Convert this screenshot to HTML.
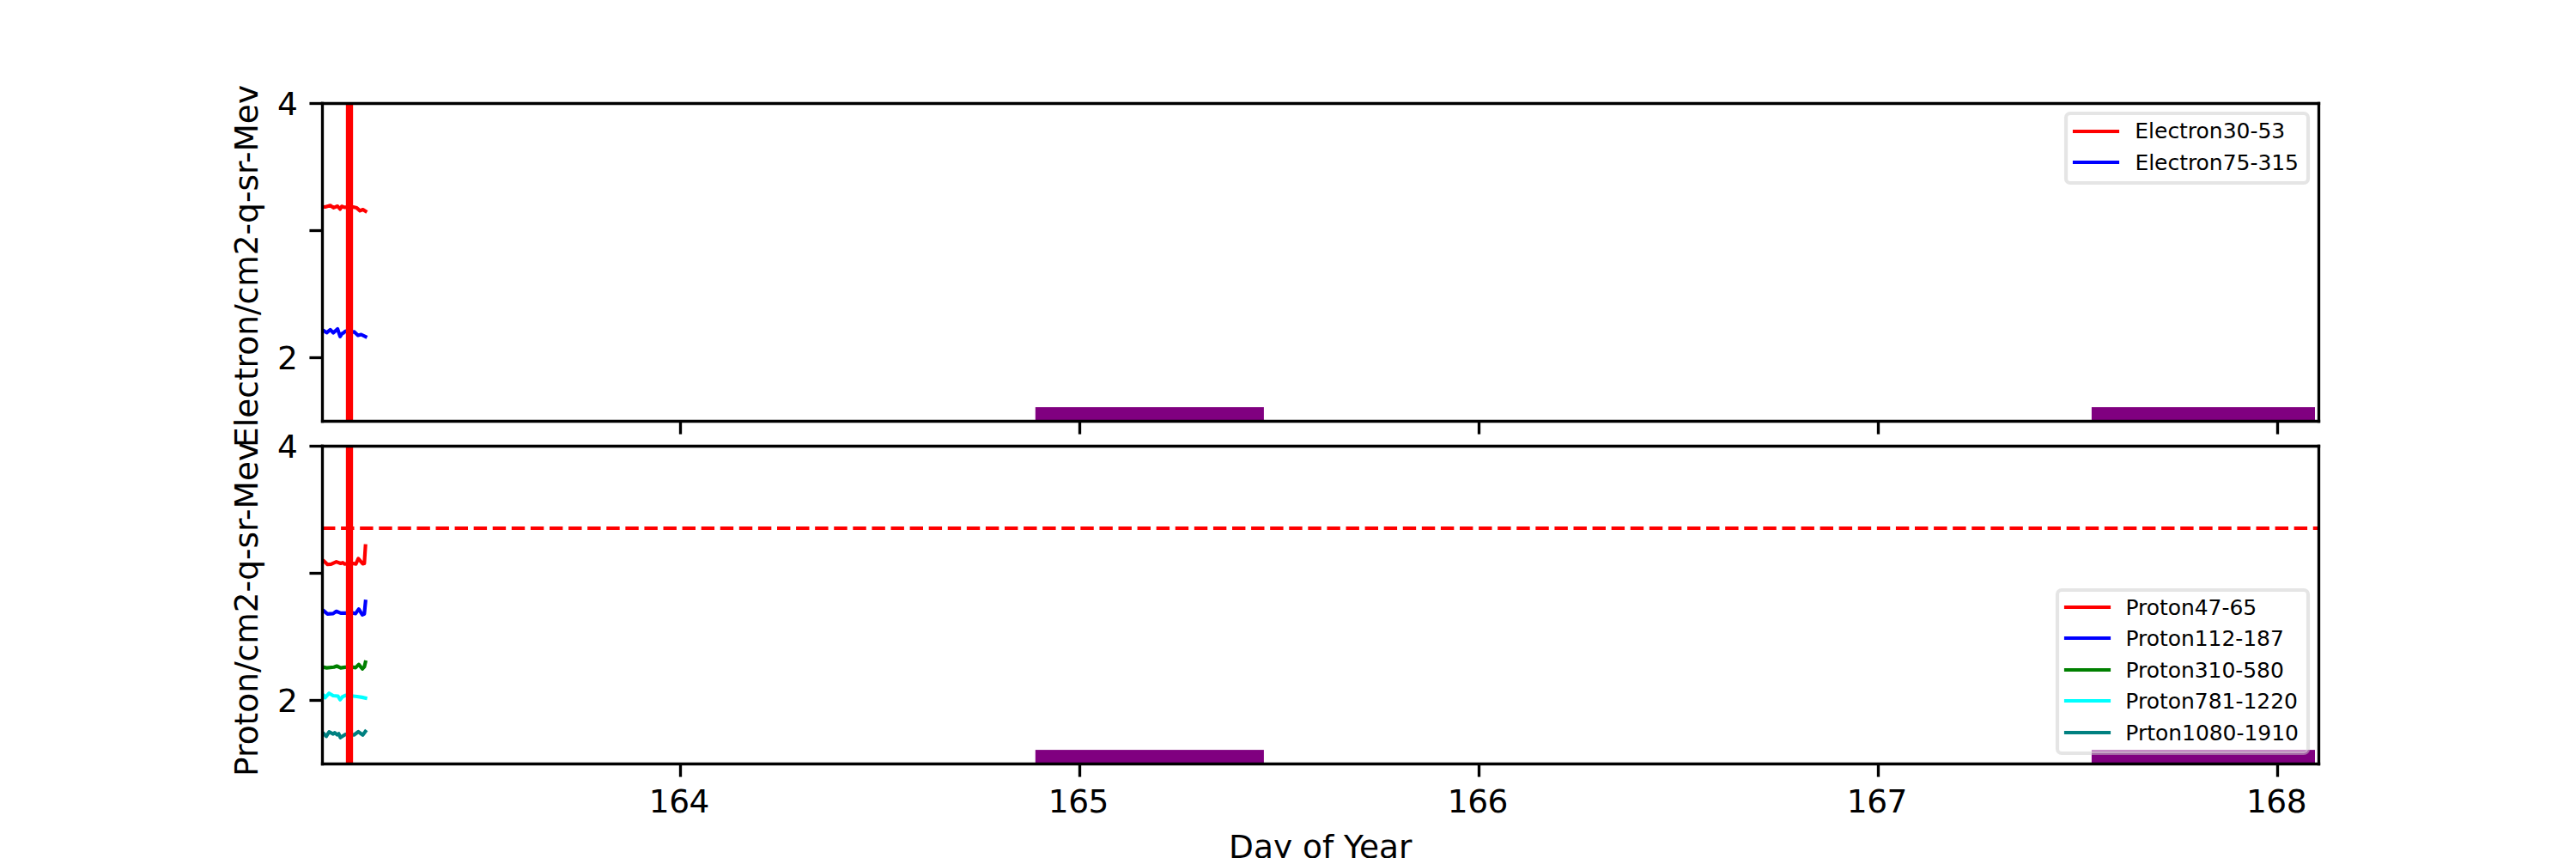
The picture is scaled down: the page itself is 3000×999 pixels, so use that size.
<!DOCTYPE html>
<html lang="en">
<head>
<meta charset="utf-8">
<title>Particle flux - Day of Year</title>
<style>
html,body{margin:0;padding:0;background:#fff;}
body{width:3000px;height:999px;overflow:hidden;}
svg{display:block;}
text{font-family:'DejaVu Sans','Liberation Sans',sans-serif;fill:#000;}
.t9{font-size:37.5px;}
.t6{font-size:25px;}
.sp{stroke:#000;stroke-width:3.3333;fill:none;stroke-linecap:square;}
.tk{stroke:#000;stroke-width:3.3333;fill:none;stroke-linecap:butt;}
.dl{fill:none;stroke-width:4.1667;stroke-linecap:square;stroke-linejoin:round;}
</style>
</head>
<body>
<svg width="3000" height="999" viewBox="0 0 3000 999">
<defs>
<clipPath id="c1"><rect x="375" y="119.88" width="2325" height="369.82"/></clipPath>
<clipPath id="c2"><rect x="375" y="519.27" width="2325" height="369.84"/></clipPath>
</defs>
<rect x="0" y="0" width="3000" height="999" fill="#ffffff"/>
<g id="axes1">
<g clip-path="url(#c1)">
<rect x="1205.8" y="474.10" width="266.1" height="18.40" fill="#800080"/>
<rect x="2435.9" y="474.10" width="260.1" height="18.40" fill="#800080"/>
<polyline class="dl" stroke="#ff0000" points="372.0,240.5 378.6,241.0 384.7,239.3 388.4,241.9 393.1,240.0 396.1,243.5 398.0,240.3 401.0,241.4 411.3,241.0 415.5,242.1 419.2,245.4 422.7,244.0 425.6,245.8"/>
<polyline class="dl" stroke="#0000ff" points="372.0,383.0 377.0,385.0 380.5,387.4 384.7,383.9 388.2,387.6 393.1,382.9 396.1,391.8 398.4,388.4 400.0,387.6 402.4,385.5 407.0,387.0 412.7,386.4 416.9,390.4 420.6,389.5 425.6,392.0"/>
<line x1="407" y1="115.5" x2="407" y2="495.5" stroke="#ff0000" stroke-width="8.3333"/>
</g>
<line class="tk" x1="792.5" y1="490.5" x2="792.5" y2="505.58"/>
<line class="tk" x1="1257.5" y1="490.5" x2="1257.5" y2="505.58"/>
<line class="tk" x1="1722.5" y1="490.5" x2="1722.5" y2="505.58"/>
<line class="tk" x1="2187.5" y1="490.5" x2="2187.5" y2="505.58"/>
<line class="tk" x1="2652.5" y1="490.5" x2="2652.5" y2="505.58"/>
<line class="tk" x1="360.42" y1="120.5" x2="375.5" y2="120.5"/>
<line class="tk" x1="360.42" y1="268.5" x2="375.5" y2="268.5"/>
<line class="tk" x1="360.42" y1="416.5" x2="375.5" y2="416.5"/>
<line class="sp" x1="375.5" y1="120.5" x2="375.5" y2="490.5"/>
<line class="sp" x1="2700.5" y1="120.5" x2="2700.5" y2="490.5"/>
<line class="sp" x1="375.5" y1="490.5" x2="2700.5" y2="490.5"/>
<line class="sp" x1="375.5" y1="120.5" x2="2700.5" y2="120.5"/>
<text id="a1_y4" class="t9" x="346.90" y="134.12" text-anchor="end">4</text>
<text id="a1_y2" class="t9" x="346.90" y="429.92" text-anchor="end">2</text>
<text id="yl1" class="t9" transform="translate(299.54 309.87) rotate(-90)" text-anchor="middle">Electron/cm2-q-sr-Mev</text>
<g>
<rect x="2406.00" y="132.00" width="282.00" height="81.00" rx="5" ry="5" fill="#ffffff" fill-opacity="0.5" stroke="#cccccc" stroke-opacity="0.5" stroke-width="4.1667"/>
<line x1="2416.00" y1="153.00" x2="2466.00" y2="153.00" stroke="#ff0000" stroke-width="4.1667" stroke-linecap="square"/>
<line x1="2416.00" y1="189.00" x2="2466.00" y2="189.00" stroke="#0000ff" stroke-width="4.1667" stroke-linecap="square"/>
</g>
<text id="l1_0" class="t6" x="2486.34" y="161.34" text-anchor="start" textLength="174.84" lengthAdjust="spacing">Electron30-53</text>
<text id="l1_1" class="t6" x="2486.40" y="198.05" text-anchor="start" textLength="190.62" lengthAdjust="spacing">Electron75-315</text>
</g>
<g id="axes2">
<g clip-path="url(#c2)">
<rect x="1205.8" y="873.10" width="266.1" height="18.40" fill="#800080"/>
<rect x="2435.9" y="873.10" width="260.1" height="18.40" fill="#800080"/>
<polyline class="dl" stroke="#ff0000" points="372.0,650.0 377.0,653.0 381.4,657.2 385.6,656.9 391.7,654.1 396.8,656.0 399.2,655.1 401.5,656.7 411.3,656.0 414.5,656.7 417.3,650.4 422.5,656.5 424.3,656.0 425.6,635.6"/>
<polyline class="dl" stroke="#0000ff" points="372.0,708.0 377.0,711.1 381.4,714.8 388.0,714.4 391.7,711.8 396.8,713.9 402.0,713.9 411.3,713.7 414.1,714.4 417.8,709.2 422.0,715.8 424.3,714.8 425.7,700.4"/>
<polyline class="dl" stroke="#008000" points="372.0,776.5 377.0,776.9 380.5,777.6 388.9,776.7 392.2,775.5 396.8,777.6 402.0,776.9 411.3,776.9 414.1,777.4 417.8,773.6 422.0,778.8 424.3,776.4 425.6,771.0"/>
<polyline class="dl" stroke="#00ffff" points="372.0,806.0 377.0,809.6 378.6,812.4 383.3,807.2 388.0,810.0 393.6,810.5 396.1,814.7 398.7,811.4 402.4,809.6 411.3,810.5 415.9,811.0 421.5,811.9 425.6,812.8"/>
<polyline class="dl" stroke="#008080" points="372.0,851.0 377.0,854.1 380.0,857.4 383.3,852.2 388.0,854.6 389.8,853.2 392.6,855.5 394.5,854.3 396.4,858.8 402.4,855.0 412.2,855.7 417.3,852.0 422.5,855.7 425.5,851.7"/>
<line x1="375" y1="615.00" x2="2700" y2="615.00" stroke="#ff0000" stroke-width="4.1667" stroke-dasharray="15.4167 6.6667"/>
<line x1="407" y1="514.5" x2="407" y2="894.5" stroke="#ff0000" stroke-width="8.3333"/>
</g>
<line class="tk" x1="792.5" y1="889.5" x2="792.5" y2="904.58"/>
<line class="tk" x1="1257.5" y1="889.5" x2="1257.5" y2="904.58"/>
<line class="tk" x1="1722.5" y1="889.5" x2="1722.5" y2="904.58"/>
<line class="tk" x1="2187.5" y1="889.5" x2="2187.5" y2="904.58"/>
<line class="tk" x1="2652.5" y1="889.5" x2="2652.5" y2="904.58"/>
<line class="tk" x1="360.42" y1="519.5" x2="375.5" y2="519.5"/>
<line class="tk" x1="360.42" y1="667.5" x2="375.5" y2="667.5"/>
<line class="tk" x1="360.42" y1="815.5" x2="375.5" y2="815.5"/>
<line class="sp" x1="375.5" y1="519.5" x2="375.5" y2="889.5"/>
<line class="sp" x1="2700.5" y1="519.5" x2="2700.5" y2="889.5"/>
<line class="sp" x1="375.5" y1="889.5" x2="2700.5" y2="889.5"/>
<line class="sp" x1="375.5" y1="519.5" x2="2700.5" y2="519.5"/>
<text id="a2_y4" class="t9" x="346.90" y="533.00" text-anchor="end">4</text>
<text id="a2_y2" class="t9" x="346.90" y="829.32" text-anchor="end">2</text>
<text id="yl2" class="t9" transform="translate(299.52 709.36) rotate(-90)" text-anchor="middle">Proton/cm2-q-sr-Mev</text>
<text id="x164" class="t9" x="791.13" y="945.91" text-anchor="middle" textLength="70.58" lengthAdjust="spacing">164</text>
<text id="x165" class="t9" x="1256.14" y="946.05" text-anchor="middle" textLength="70.58" lengthAdjust="spacing">165</text>
<text id="x166" class="t9" x="1721.11" y="945.92" text-anchor="middle" textLength="70.58" lengthAdjust="spacing">166</text>
<text id="x167" class="t9" x="2186.10" y="945.95" text-anchor="middle" textLength="70.58" lengthAdjust="spacing">167</text>
<text id="x168" class="t9" x="2651.25" y="945.86" text-anchor="middle" textLength="70.58" lengthAdjust="spacing">168</text>
<text id="xl" class="t9" x="1537.81" y="999.27" text-anchor="middle">Day of Year</text>
<g>
<rect x="2396.00" y="687.00" width="292.00" height="190.00" rx="5" ry="5" fill="#ffffff" fill-opacity="0.5" stroke="#cccccc" stroke-opacity="0.5" stroke-width="4.1667"/>
<line x1="2406.00" y1="707.00" x2="2456.00" y2="707.00" stroke="#ff0000" stroke-width="4.1667" stroke-linecap="square"/>
<line x1="2406.00" y1="743.00" x2="2456.00" y2="743.00" stroke="#0000ff" stroke-width="4.1667" stroke-linecap="square"/>
<line x1="2406.00" y1="780.00" x2="2456.00" y2="780.00" stroke="#008000" stroke-width="4.1667" stroke-linecap="square"/>
<line x1="2406.00" y1="816.00" x2="2456.00" y2="816.00" stroke="#00ffff" stroke-width="4.1667" stroke-linecap="square"/>
<line x1="2406.00" y1="853.00" x2="2456.00" y2="853.00" stroke="#008080" stroke-width="4.1667" stroke-linecap="square"/>
</g>
<text id="l2_0" class="t6" x="2475.49" y="715.63" text-anchor="start" textLength="152.64" lengthAdjust="spacing">Proton47-65</text>
<text id="l2_1" class="t6" x="2475.44" y="752.37" text-anchor="start" textLength="184.41" lengthAdjust="spacing">Proton112-187</text>
<text id="l2_2" class="t6" x="2475.39" y="789.01" text-anchor="start" textLength="184.41" lengthAdjust="spacing">Proton310-580</text>
<text id="l2_3" class="t6" x="2475.37" y="824.75" text-anchor="start" textLength="200.57" lengthAdjust="spacing">Proton781-1220</text>
<text id="l2_4" class="t6" x="2475.34" y="862.41" text-anchor="start" textLength="201.62" lengthAdjust="spacing">Prton1080-1910</text>
</g>
</svg>
</body>
</html>
